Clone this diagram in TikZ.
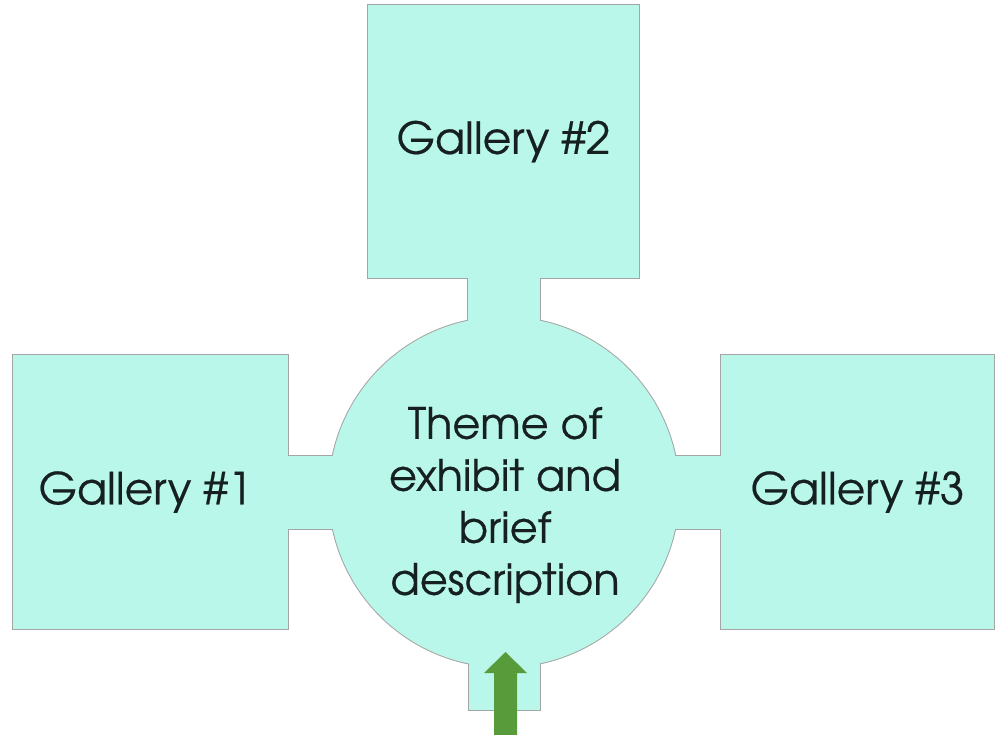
\documentclass[tikz,border=0pt]{standalone}
\usepackage{fontspec}
\setmainfont{TeX Gyre Adventor}[FakeBold=0.45]
\usetikzlibrary{calc}
\pgfdeclarelayer{background}
\pgfsetlayers{background,main}
\definecolor{aqua}{RGB}{185,247,235}
\definecolor{edgegray}{RGB}{165,165,165}
\definecolor{arrowgreen}{RGB}{88,155,58}
\definecolor{inktext}{RGB}{22,32,32}
\tikzset{
  gallery/.style={rectangle, fill=aqua, inner sep=0pt, outer sep=0pt, text=inktext,
    font=\fontsize{44}{52}\selectfont},
  hub/.style={circle, fill=aqua, inner sep=0pt, outer sep=0pt, minimum size=350pt},
  hubtext/.style={text=inktext, align=center, inner sep=0pt, font=\fontsize{43}{52}\selectfont},
  rim/.style={draw=edgegray, line width=2pt},
  stub/.style={fill=aqua},
}
\begin{document}
\begin{tikzpicture}[x=1pt,y=-1pt]
\useasboundingbox (0,0) rectangle (995,734);
\node[gallery, minimum width=271pt, minimum height=273pt] (g2) at (503.5,141.5) {Gallery \#2};
\node[gallery, minimum width=275pt, minimum height=274pt] (g1) at (150.5,492) {Gallery \#1\hspace*{10pt}};
\node[gallery, minimum width=273pt, minimum height=274pt] (g3) at (857.5,492) {Gallery \#3};
\node[hub] (theme) at (504,492) {};
\node[hubtext] (themetext) at (505,505)
  {Theme of\\exhibit and\\brief\\description};
\coordinate (stubend) at (504.5,710);
\begin{pgfonlayer}{background}
  % outlines of the union
  \draw[rim] (g1.south west) rectangle (g1.north east);
  \draw[rim] (g2.south west) rectangle (g2.north east);
  \draw[rim] (g3.south west) rectangle (g3.north east);
  \draw[rim] (theme.center) circle[radius=175pt];
  \draw[rim] ($(g2.south)+(-35.5,0)$) rectangle ($(theme.center)+(36,0)$);
  \draw[rim] ($(g1.east)+(0,-36.5)$) rectangle ($(theme.center)+(0,36.5)$);
  \draw[rim] ($(theme.center)+(0,-36.5)$) rectangle ($(g3.west)+(0,36.5)$);
  \draw[rim] ($(theme.center)+(-35.5,0)$) rectangle ($(stubend)+(35.5,0)$);
  % fills of the connectors
  \fill[stub] ($(g2.south)+(-35.5,0)$) rectangle ($(theme.center)+(36,0)$);
  \fill[stub] ($(g1.east)+(0,-36.5)$) rectangle ($(theme.center)+(0,36.5)$);
  \fill[stub] ($(theme.center)+(0,-36.5)$) rectangle ($(g3.west)+(0,36.5)$);
  \fill[stub] ($(theme.center)+(-35.5,0)$) rectangle ($(stubend)+(35.5,0)$);
\end{pgfonlayer}
% entrance arrow
\coordinate (arrowtip) at (505.5,652);
\coordinate (arrowfoot) at (505.5,740);
\fill[arrowgreen] (arrowtip) -- ++(21.5,21) -- ++(-10,0) |- (arrowfoot) -- ++(-11.5,0) |- ++(-10,-67) -- cycle;
\end{tikzpicture}
\end{document}
